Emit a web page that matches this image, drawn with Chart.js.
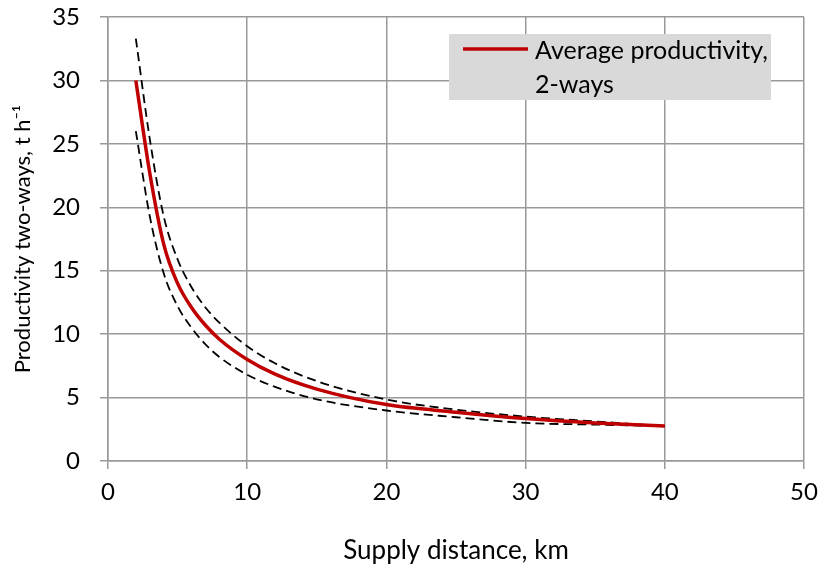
<!DOCTYPE html>
<html>
<head>
<meta charset="utf-8">
<script src="https://cdn.jsdelivr.net/npm/chart.js@4"></script>
<style>
  html, body { margin: 0; padding: 0; background: #fff; }
  #wrap { width: 821px; height: 570px; }
</style>
</head>
<body>
<div id="wrap"><canvas id="prodChart" width="821" height="570"></canvas></div>
<script>
// supply distance, km
var distances = [2, 3, 4, 5, 6, 7, 8, 10, 12, 15, 20, 25, 30, 35, 40];
// average productivity and the two bounds, t/h
var avgProd   = [30, 22.7, 17.1, 14.0, 12.1, 10.7, 9.6, 8.0, 6.85, 5.67, 4.45, 3.85, 3.35, 3.0, 2.75];
var upperProd = [33.3, 25.4, 19.3, 15.9, 13.7, 12.1, 10.9, 9.05, 7.7, 6.3, 4.85, 4.05, 3.5, 3.12, 2.75];
var lowerProd = [26.0, 19.3, 14.8, 12.2, 10.5, 9.2, 8.2, 6.8, 5.85, 4.86, 3.98, 3.45, 3.0, 2.87, 2.75];

var FONT = "Lato, 'Open Sans', sans-serif";

function toPoints(xs, ys) {
  var pts = [];
  for (var i = 0; i < xs.length; i++) {
    pts.push({ x: xs[i], y: ys[i] });
  }
  return pts;
}

// legend box drawn by hand so the label can wrap on two lines
var boxLegend = {
  id: 'boxLegend',
  afterDraw: function(chart) {
    var ctx = chart.ctx;
    var ds = chart.data.datasets[0];
    ctx.save();
    ctx.fillStyle = '#d9d9d9';
    ctx.fillRect(449, 34, 322, 66);
    ctx.strokeStyle = ds.borderColor;
    ctx.lineWidth = 3.5;
    ctx.beginPath();
    ctx.moveTo(463, 49);
    ctx.lineTo(528, 49);
    ctx.stroke();
    ctx.fillStyle = '#000';
    ctx.font = '25px ' + FONT;
    ctx.textBaseline = 'middle';
    ctx.fillText('Average productivity,', 535, 51);
    ctx.fillText('2-ways', 535, 85);
    ctx.restore();
  }
};

var ctx = document.getElementById('prodChart').getContext('2d');
var chart = new Chart(ctx, {
  type: 'scatter',
  data: {
    datasets: [
      {
        label: 'Average productivity, 2-ways',
        data: toPoints(distances, avgProd),
        showLine: true,
        borderColor: '#c00000',
        borderWidth: 3.5,
        pointRadius: 0,
        cubicInterpolationMode: 'monotone'
      },
      {
        label: 'upper',
        data: toPoints(distances, upperProd),
        showLine: true,
        borderColor: '#000',
        borderWidth: 1.8,
        borderDash: [9, 5],
        pointRadius: 0,
        cubicInterpolationMode: 'monotone'
      },
      {
        label: 'lower',
        data: toPoints(distances, lowerProd),
        showLine: true,
        borderColor: '#000',
        borderWidth: 1.8,
        borderDash: [9, 5],
        pointRadius: 0,
        cubicInterpolationMode: 'monotone'
      }
    ]
  },
  options: {
    responsive: false,
    animation: false,
    layout: { padding: { top: 17, right: 17, left: 0, bottom: 0 } },
    plugins: {
      legend: { display: false },
      tooltip: { enabled: false }
    },
    scales: {
      x: {
        type: 'linear',
        min: 0,
        max: 50,
        ticks: { stepSize: 10, color: '#000', font: { family: FONT, size: 24 }, padding: 9 },
        grid: { color: '#999', lineWidth: 1.5, tickLength: 8 },
        border: { color: '#999', width: 1.5 },
        title: {
          display: true,
          text: 'Supply distance, km',
          color: '#000',
          font: { family: FONT, size: 26 },
          padding: { top: 0, bottom: 4 }
        },
        afterFit: function(scale) {
          scale.height = 109;
          scale.paddingLeft = 0;
          scale.paddingRight = 0;
        }
      },
      y: {
        min: 0,
        max: 35,
        ticks: { stepSize: 5, color: '#000', font: { family: FONT, size: 24 }, padding: 20 },
        grid: { color: '#999', lineWidth: 1.5, tickLength: 8 },
        border: { color: '#999', width: 1.5 },
        title: {
          display: true,
          text: 'Productivity two-ways, t h\u207B\u00B9',
          color: '#000',
          font: { family: FONT, size: 22 },
          padding: { top: 10, bottom: 0 }
        },
        afterFit: function(scale) {
          scale.width = 108;
          scale.paddingTop = 0;
          scale.paddingBottom = 0;
        }
      }
    }
  },
  plugins: [boxLegend]
});
</script>
</body>
</html>
